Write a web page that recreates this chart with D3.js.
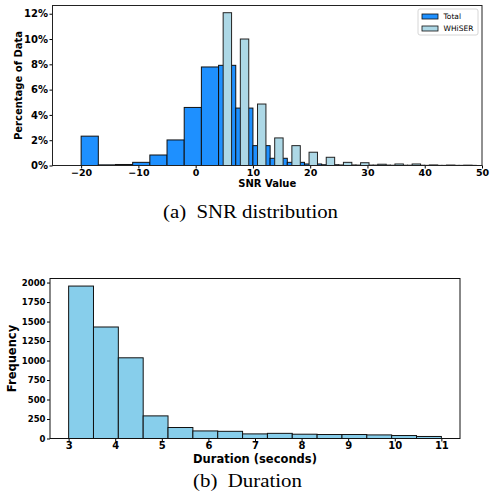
<!DOCTYPE html>
<html>
<head>
<meta charset="utf-8">
<script src="https://cdn.jsdelivr.net/npm/d3@7"></script>
<style>
  body { margin: 0; background: #fff; }
  svg text { font-family: "DejaVu Sans", sans-serif; }
  .tick text { font-weight: bold; fill: #000; }
  .cap { font-family: "Liberation Serif", "Times New Roman", serif; }
</style>
</head>
<body>
<div class="svg-div"></div>
<script>
// SNR histogram (percent of data), bins of 3 dB
var totalBinStart = [-20, -17, -14, -11, -8, -5, -2, 1, 4, 7, 10, 13, 16, 19, 22, 25, 28, 31, 34, 37, 40, 43, 46]
var totalPct = [2.32, 0.05, 0.08, 0.25, 0.83, 2.02, 4.59, 7.79, 7.92, 4.54, 1.57, 0.57, 0.25, 0.12, 0.06, 0.04, 0.03, 0.03, 0.02, 0.02, 0.01, 0.01, 0.01]
var whiserBinStart = [4.8, 7.8, 10.8, 13.8, 16.8, 19.8, 22.8, 25.8, 28.8, 31.8, 34.8, 37.8, 40.8, 43.8, 46.8]
var whiserPct = [12.08, 10.0, 4.86, 2.18, 1.57, 1.05, 0.65, 0.25, 0.22, 0.1, 0.12, 0.12, 0.04, 0.03, 0.02]
var binWidth = 3
var snrTicks = [-20, -10, 0, 10, 20, 30, 40, 50]
var pctTicks = [0, 2, 4, 6, 8, 10, 12]
var seriesNames = ["Total", "WHiSER"]

// Duration histogram (counts), 15 bins between 3 and 11 s
var durationEdges = [3, 3.5333, 4.0667, 4.6, 5.1333, 5.6667, 6.2, 6.7333, 7.2667, 7.8, 8.3333, 8.8667, 9.4, 9.9333, 10.4667, 11]
var durationCounts = [1955, 1430, 1035, 290, 141, 97, 92, 59, 66, 55, 51, 51, 46, 38, 26]
var durationTicks = [3, 4, 5, 6, 7, 8, 9, 10, 11]
var freqTicks = [0, 250, 500, 750, 1000, 1250, 1500, 1750, 2000]

var svg = d3.select(".svg-div").append("svg")
    .attr("width", 492).attr("height", 500)

// ---------- (a) SNR distribution ----------
var a = {left: 52.5, right: 482, top: 5.5, bottom: 165.5}
var xA = d3.scaleLinear().domain([-25, 50]).range([a.left, a.right])
var yA = d3.scaleLinear().domain([0, 12.65]).range([a.bottom, a.top])

var gA = svg.append("g")
gA.selectAll("rect.total")
    .data(totalPct)
    .join("rect")
    .attr("class", "total")
    .attr("x", (d, i) => xA(totalBinStart[i]))
    .attr("width", (d, i) => xA(totalBinStart[i] + binWidth) - xA(totalBinStart[i]))
    .attr("y", d => yA(d))
    .attr("height", d => yA(0) - yA(d))
    .attr("fill", "#1e90ff")
    .attr("stroke", "#111")
    .attr("stroke-width", 1)

gA.selectAll("rect.whiser")
    .data(whiserPct)
    .join("rect")
    .attr("class", "whiser")
    .attr("x", (d, i) => xA(whiserBinStart[i]))
    .attr("width", (d, i) => xA(whiserBinStart[i] + binWidth * 0.49) - xA(whiserBinStart[i]))
    .attr("y", d => yA(d))
    .attr("height", d => yA(0) - yA(d))
    .attr("fill", "#add8e6")
    .attr("stroke", "#222")
    .attr("stroke-width", 1)

var xAxisA = d3.axisBottom(xA).tickValues(snrTicks).tickSize(3).tickPadding(0.5)
    .tickFormat(d => d < 0 ? "\u2212" + Math.abs(d) : d)
var gx = svg.append("g").attr("transform", "translate(0," + a.bottom + ")").call(xAxisA)
gx.select(".domain").remove()
gx.selectAll("text").attr("font-size", 9.5)

var yAxisA = d3.axisLeft(yA).tickValues(pctTicks).tickSize(3).tickPadding(1.5)
    .tickFormat(d => d + "%")
var gy = svg.append("g").attr("transform", "translate(" + a.left + ",0)").call(yAxisA)
gy.select(".domain").remove()
gy.selectAll("text").attr("font-size", 10)

svg.append("rect")
    .attr("x", a.left).attr("y", a.top)
    .attr("width", a.right - a.left).attr("height", a.bottom - a.top)
    .attr("fill", "none").attr("stroke", "#222").attr("stroke-width", 1)

svg.append("text")
    .attr("x", (a.left + a.right) / 2).attr("y", 187)
    .attr("text-anchor", "middle").attr("font-size", 10).attr("font-weight", "bold")
    .text("SNR Value")
svg.append("text")
    .attr("transform", "translate(22," + ((a.top + a.bottom) / 2) + ") rotate(-90)")
    .attr("text-anchor", "middle").attr("font-size", 10).attr("font-weight", "bold")
    .text("Percentage of Data")

// legend
var leg = svg.append("g").attr("transform", "translate(418,9)")
leg.append("rect").attr("width", 60).attr("height", 26).attr("rx", 2)
    .attr("fill", "#fff").attr("stroke", "#ccc").attr("stroke-width", 0.8)
var legColors = ["#1e90ff", "#add8e6"]
seriesNames.forEach(function(name, i) {
    leg.append("rect").attr("x", 4).attr("y", 5 + i * 12).attr("width", 16).attr("height", 5)
        .attr("fill", legColors[i]).attr("stroke", "#111").attr("stroke-width", 0.8)
    leg.append("text").attr("x", 25.5).attr("y", 10 + i * 12)
        .attr("font-size", 7.5).text(name)
})

svg.append("text").attr("class", "cap")
    .attr("x", 250.5).attr("y", 218).attr("text-anchor", "middle").attr("font-size", 19)
    .attr("textLength", 175).attr("lengthAdjust", "spacingAndGlyphs")
    .text("(a)\u00a0\u00a0SNR distribution")

// ---------- (b) Duration ----------
var b = {left: 50, right: 460, top: 278.5, bottom: 438.5}
var xB = d3.scaleLinear().domain([2.6, 11.4]).range([b.left, b.right])
var yB = d3.scaleLinear().domain([0, 2052]).range([b.bottom, b.top])

svg.append("g").selectAll("rect")
    .data(durationCounts)
    .join("rect")
    .attr("x", (d, i) => xB(durationEdges[i]))
    .attr("width", (d, i) => xB(durationEdges[i + 1]) - xB(durationEdges[i]))
    .attr("y", d => yB(d))
    .attr("height", d => yB(0) - yB(d))
    .attr("fill", "#87ceeb")
    .attr("stroke", "#111")
    .attr("stroke-width", 1)

var gxB = svg.append("g").attr("transform", "translate(0," + b.bottom + ")")
    .call(d3.axisBottom(xB).tickValues(durationTicks).tickSize(3).tickPadding(0))
gxB.select(".domain").remove()
gxB.selectAll("text").attr("font-size", 10)

var gyB = svg.append("g").attr("transform", "translate(" + b.left + ",0)")
    .call(d3.axisLeft(yB).tickValues(freqTicks).tickSize(3).tickPadding(1.5).tickFormat(d3.format("d")))
gyB.select(".domain").remove()
gyB.selectAll("text").attr("font-size", 8.5)

svg.append("rect")
    .attr("x", b.left).attr("y", b.top)
    .attr("width", b.right - b.left).attr("height", b.bottom - b.top)
    .attr("fill", "none").attr("stroke", "#111").attr("stroke-width", 1)

svg.append("text")
    .attr("x", (b.left + b.right) / 2).attr("y", 463)
    .attr("text-anchor", "middle").attr("font-size", 11.5).attr("font-weight", "bold")
    .text("Duration (seconds)")
svg.append("text")
    .attr("transform", "translate(16," + ((b.top + b.bottom) / 2) + ") rotate(-90)")
    .attr("text-anchor", "middle").attr("font-size", 11.5).attr("font-weight", "bold")
    .text("Frequency")

svg.append("text").attr("class", "cap")
    .attr("x", 247.5).attr("y", 487).attr("text-anchor", "middle").attr("font-size", 19)
    .attr("textLength", 109).attr("lengthAdjust", "spacingAndGlyphs")
    .text("(b)\u00a0\u00a0Duration")
</script>
</body>
</html>
